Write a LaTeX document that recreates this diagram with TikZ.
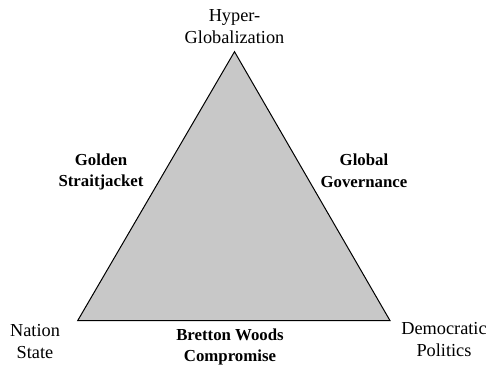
\documentclass[tikz,border=0pt]{standalone}
\usepackage{fontspec}
\setmainfont{Liberation Serif}
\definecolor{trifill}{RGB}{200,200,200}
\begin{document}
\begin{tikzpicture}[x=1pt,y=-1pt,
  corner/.style={align=center,anchor=base,inner sep=0pt,font=\fontsize{18.3}{21.5}\selectfont},
  side/.style={align=center,anchor=base,inner sep=0pt,font=\fontsize{16.8}{21.7}\selectfont\bfseries}]
\useasboundingbox (0,0) rectangle (486,372);
\coordinate (top) at (234.5,51.7);
\coordinate (bl) at (77.7,320.6);
\coordinate (br) at (390,320.6);
\fill[trifill] (top) -- (bl) -- (br) -- cycle;
\draw[line width=1pt,line join=miter] (top) -- (bl) -- (br) -- cycle;
\node[corner] (hg) at (234.5,43) {Hyper-\\Globalization};
\node[corner] (ns) at (35,358) {Nation\\State};
\node[corner] (dp) at (444,356) {Democratic\\Politics};
\node[side] (gs) at (101,186.7) {Golden\\Straitjacket};
\node[side] (gg) at (364,187) {Global\\Governance};
\node[side] (bw) at (230,361.7) {Bretton Woods\\Compromise};
\end{tikzpicture}
\end{document}
